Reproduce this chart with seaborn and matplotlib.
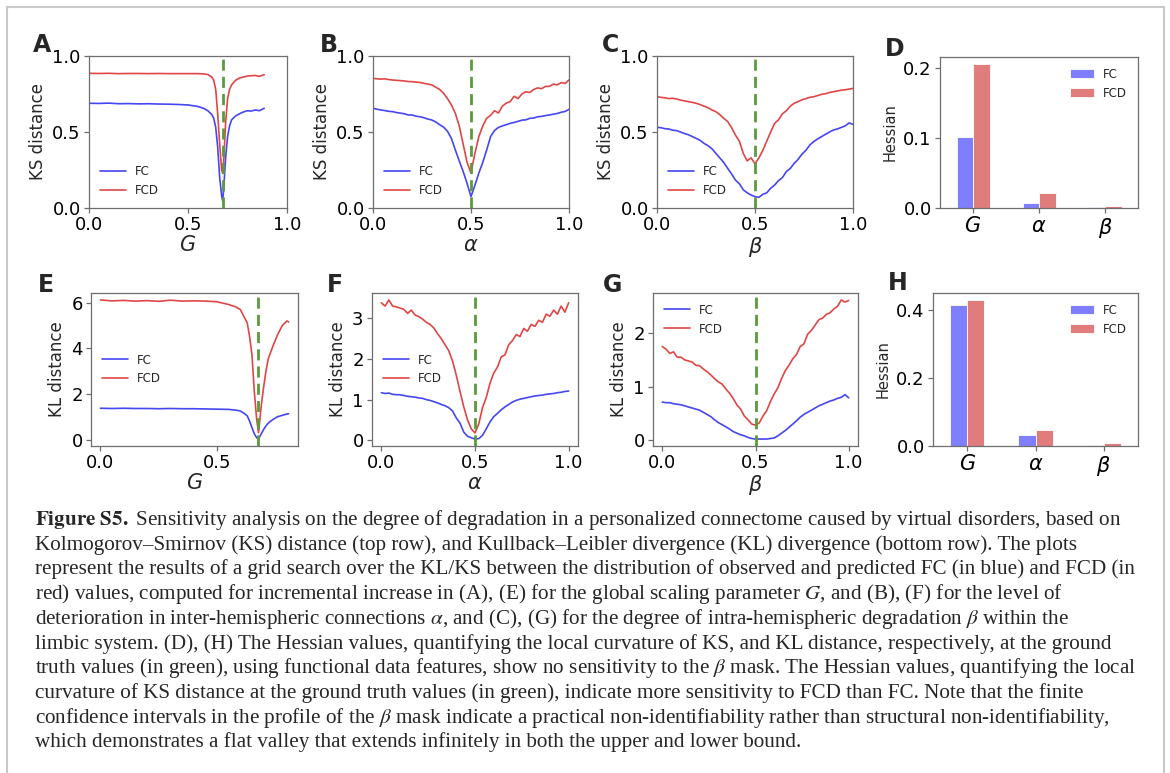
import numpy as np
import pandas as pd
import matplotlib
matplotlib.use("Agg")
import matplotlib.pyplot as plt
from matplotlib.lines import Line2D
import seaborn as sns

# ---------------- data ----------------
G_TRUE = 0.675
A_TRUE = 0.5
B_TRUE = 0.5

# Panel A (KS vs G)
a_x = [0.0, 0.05, 0.10, 0.15, 0.20, 0.25, 0.30, 0.35, 0.40, 0.45, 0.50, 0.55, 0.58, 0.60, 0.62, 0.63, 0.64,
       0.65, 0.66, 0.67, 0.675, 0.68, 0.69, 0.70, 0.71, 0.72, 0.74, 0.76, 0.78, 0.80, 0.82, 0.84, 0.86, 0.885]
a_fc = [0.689, 0.688, 0.690, 0.686, 0.687, 0.685, 0.686, 0.684, 0.683, 0.681, 0.678, 0.668, 0.655, 0.640, 0.615,
        0.590, 0.530, 0.400, 0.200, 0.080, 0.050, 0.120, 0.330, 0.470, 0.540, 0.580, 0.605, 0.620, 0.632, 0.640,
        0.638, 0.645, 0.640, 0.656]
a_fcd = [0.886, 0.885, 0.886, 0.884, 0.885, 0.885, 0.884, 0.885, 0.884, 0.884, 0.884, 0.884, 0.882, 0.878, 0.862,
         0.840, 0.780, 0.620, 0.420, 0.250, 0.230, 0.300, 0.560, 0.720, 0.780, 0.810, 0.840, 0.855, 0.862, 0.868,
         0.870, 0.872, 0.866, 0.877]

# common sweep grid for alpha / beta
sweep = np.linspace(0.0, 1.0, 51)

# Panel B (KS vs alpha)
b_fc = [0.656, 0.650, 0.645, 0.641, 0.636, 0.634, 0.628, 0.624, 0.620, 0.612, 0.612, 0.604, 0.600, 0.594, 0.585,
        0.579, 0.566, 0.548, 0.532, 0.505, 0.458, 0.382, 0.310, 0.240, 0.162, 0.075, 0.150, 0.230, 0.300, 0.382,
        0.470, 0.510, 0.530, 0.540, 0.548, 0.557, 0.563, 0.570, 0.578, 0.580, 0.590, 0.592, 0.600, 0.603, 0.608,
        0.612, 0.617, 0.622, 0.630, 0.635, 0.649]
b_fcd = [0.853, 0.850, 0.848, 0.850, 0.845, 0.842, 0.840, 0.838, 0.836, 0.832, 0.831, 0.828, 0.826, 0.820, 0.815,
         0.810, 0.795, 0.780, 0.755, 0.720, 0.678, 0.623, 0.540, 0.420, 0.300, 0.230, 0.360, 0.470, 0.540, 0.590,
         0.610, 0.640, 0.625, 0.670, 0.690, 0.700, 0.735, 0.720, 0.750, 0.765, 0.760, 0.780, 0.790, 0.785, 0.800,
         0.800, 0.815, 0.810, 0.825, 0.820, 0.842]

# Panel C (KS vs beta)
c_fc = [0.531, 0.528, 0.522, 0.520, 0.512, 0.509, 0.500, 0.490, 0.482, 0.470, 0.458, 0.445, 0.425, 0.410, 0.390,
        0.360, 0.330, 0.300, 0.262, 0.225, 0.184, 0.160, 0.120, 0.100, 0.085, 0.075, 0.070, 0.090, 0.100, 0.130,
        0.151, 0.180, 0.200, 0.240, 0.260, 0.294, 0.320, 0.355, 0.380, 0.415, 0.437, 0.455, 0.470, 0.485, 0.500,
        0.513, 0.520, 0.530, 0.540, 0.560, 0.550]
c_fcd = [0.732, 0.728, 0.725, 0.720, 0.722, 0.717, 0.710, 0.705, 0.700, 0.695, 0.689, 0.680, 0.670, 0.660, 0.645,
         0.634, 0.615, 0.590, 0.570, 0.530, 0.480, 0.440, 0.360, 0.310, 0.330, 0.290, 0.330, 0.380, 0.440, 0.500,
         0.557, 0.580, 0.620, 0.640, 0.670, 0.689, 0.700, 0.712, 0.720, 0.728, 0.732, 0.740, 0.748, 0.752, 0.760,
         0.765, 0.770, 0.775, 0.778, 0.782, 0.787]

# Panel D (Hessian of KS)
params = ["$G$", r"$\alpha$", r"$\beta$"]
d_fc = [0.101, 0.0075, 0.001]
d_fcd = [0.205, 0.021, 0.003]

# Panel E (KL vs G)
e_x = [0.0, 0.05, 0.10, 0.15, 0.20, 0.25, 0.30, 0.35, 0.40, 0.45, 0.50, 0.55, 0.58, 0.60, 0.62, 0.63, 0.64,
       0.65, 0.66, 0.67, 0.678, 0.69, 0.70, 0.71, 0.72, 0.74, 0.76, 0.78, 0.80, 0.807]
e_fc = [1.37, 1.36, 1.37, 1.36, 1.36, 1.35, 1.36, 1.35, 1.35, 1.34, 1.33, 1.32, 1.29, 1.25, 1.12, 1.03, 0.80,
        0.52, 0.25, 0.08, 0.02, 0.25, 0.44, 0.60, 0.72, 0.88, 1.00, 1.06, 1.12, 1.13]
e_fcd = [6.12, 6.08, 6.10, 6.07, 6.09, 6.06, 6.11, 6.07, 6.08, 6.07, 6.04, 5.92, 5.82, 5.70, 5.30, 5.10, 4.50,
         3.70, 2.10, 0.90, 0.30, 1.50, 2.30, 3.00, 3.55, 4.10, 4.60, 5.00, 5.20, 5.15]

# Panel F (KL vs alpha)
f_fc = [1.17, 1.15, 1.16, 1.13, 1.12, 1.12, 1.10, 1.08, 1.07, 1.06, 1.04, 1.03, 1.00, 0.98, 0.95, 0.92, 0.88,
        0.85, 0.80, 0.72, 0.55, 0.42, 0.20, 0.10, 0.06, 0.03, 0.04, 0.12, 0.28, 0.45, 0.58, 0.66, 0.75, 0.82,
        0.88, 0.94, 0.98, 1.01, 1.03, 1.05, 1.07, 1.09, 1.10, 1.11, 1.13, 1.14, 1.15, 1.17, 1.18, 1.20, 1.21]
f_fcd = [3.38, 3.30, 3.45, 3.30, 3.28, 3.25, 3.22, 3.12, 3.20, 3.08, 3.04, 2.98, 2.90, 2.85, 2.76, 2.62, 2.50,
         2.35, 2.20, 1.95, 1.60, 1.20, 0.82, 0.50, 0.28, 0.18, 0.40, 0.80, 1.05, 1.40, 1.65, 1.80, 2.05, 2.10,
         2.35, 2.45, 2.60, 2.55, 2.75, 2.68, 2.85, 2.80, 2.95, 2.90, 3.10, 3.05, 3.20, 3.10, 3.30, 3.15, 3.38]

# Panel G (KL vs beta)
g_fc = [0.71, 0.70, 0.70, 0.68, 0.67, 0.66, 0.64, 0.62, 0.60, 0.58, 0.56, 0.52, 0.48, 0.44, 0.38, 0.33, 0.29,
        0.25, 0.21, 0.16, 0.13, 0.10, 0.08, 0.05, 0.03, 0.02, 0.02, 0.02, 0.02, 0.03, 0.04, 0.08, 0.13, 0.18,
        0.24, 0.30, 0.36, 0.43, 0.48, 0.52, 0.56, 0.60, 0.64, 0.67, 0.70, 0.73, 0.75, 0.78, 0.80, 0.85, 0.79]
g_fcd = [1.75, 1.70, 1.62, 1.65, 1.55, 1.55, 1.50, 1.48, 1.46, 1.40, 1.39, 1.33, 1.28, 1.22, 1.15, 1.09, 1.05,
         0.96, 0.88, 0.78, 0.66, 0.58, 0.45, 0.38, 0.30, 0.28, 0.32, 0.45, 0.55, 0.72, 0.86, 0.98, 1.15, 1.30,
         1.40, 1.52, 1.60, 1.75, 1.80, 1.98, 2.05, 2.15, 2.25, 2.28, 2.35, 2.38, 2.45, 2.50, 2.62, 2.58, 2.61]

# Panel H (Hessian of KL)
h_fc = [0.416, 0.033, 0.003]
h_fcd = [0.429, 0.047, 0.010]

caption_lines = [
    r"$\mathbf{Figure\ S5.}$ Sensitivity analysis on the degree of degradation in a personalized connectome caused by virtual disorders, based on",
    "Kolmogorov–Smirnov (KS) distance (top row), and Kullback–Leibler divergence (KL) divergence (bottom row). The plots",
    "represent the results of a grid search over the KL/KS between the distribution of observed and predicted FC (in blue) and FCD (in",
    r"red) values, computed for incremental increase in (A), (E) for the global scaling parameter $G$, and (B), (F) for the level of",
    r"deterioration in inter-hemispheric connections $\alpha$, and (C), (G) for the degree of intra-hemispheric degradation $\beta$ within the",
    "limbic system. (D), (H) The Hessian values, quantifying the local curvature of KS, and KL distance, respectively, at the ground",
    r"truth values (in green), using functional data features, show no sensitivity to the $\beta$ mask. The Hessian values, quantifying the local",
    "curvature of KS distance at the ground truth values (in green), indicate more sensitivity to FCD than FC. Note that the finite",
    r"confidence intervals in the profile of the $\beta$ mask indicate a practical non-identifiability rather than structural non-identifiability,",
    "which demonstrates a flat valley that extends infinitely in both the upper and lower bound.",
]

# ---------------- style ----------------
sns.set_style("ticks")
plt.rcParams["font.family"] = ["DejaVu Sans"]
plt.rcParams["axes.edgecolor"] = "#6e6e6e"
plt.rcParams["axes.linewidth"] = 0.9
plt.rcParams["xtick.color"] = "#6e6e6e"
plt.rcParams["ytick.color"] = "#6e6e6e"
plt.rcParams["xtick.labelcolor"] = "black"
plt.rcParams["ytick.labelcolor"] = "black"

BLUE = "#4646f2"
RED = "#e04646"
GREEN = "#5b9b3a"
BAR_BLUE = "#7f7ffd"
BAR_RED = "#e07c7c"

W, H = 1170, 773
fig = plt.figure(figsize=(W / 100, H / 100), dpi=100)
fig.patch.set_facecolor("white")


def px_axes(l, r, t, b):
    return fig.add_axes([l / W, 1 - b / H, (r - l) / W, (b - t) / H])


def style(ax, ylabel, ylabsize=12):
    ax.tick_params(axis="both", labelsize=13, length=3.5, width=0.9, pad=2.5)
    ax.set_ylabel(ylabel, fontsize=ylabsize)
    for s in ax.spines.values():
        s.set_visible(True)


def line_panel(ax, x, fc, fcd, truth, xlabel, ylabel, legend_loc):
    sns.lineplot(x=x, y=fc, ax=ax, color=BLUE, linewidth=1.2, label="FC", estimator=None)
    sns.lineplot(x=x, y=fcd, ax=ax, color=RED, linewidth=1.2, label="FCD", estimator=None)
    ax.axvline(truth, color=GREEN, linestyle=(0, (4.0, 2.2)), linewidth=2.0)
    ax.set_xlabel(xlabel, fontsize=15, labelpad=0.5)
    style(ax, ylabel)
    ax.legend(loc=legend_loc, frameon=False, fontsize=8.5, handlelength=2.2)


def bar_panel(ax, fc, fcd, ylabel):
    df = pd.DataFrame({"param": params * 2,
                       "metric": ["FC"] * 3 + ["FCD"] * 3,
                       "value": fc + fcd})
    sns.barplot(data=df, x="param", y="value", hue="metric", order=params,
                palette={"FC": BAR_BLUE, "FCD": BAR_RED}, width=0.5, saturation=1,
                edgecolor="white", linewidth=0.6, ax=ax)
    ax.set_xlabel("")
    style(ax, ylabel, ylabsize=10.5)
    ax.tick_params(axis="x", labelsize=15)
    ax.legend(loc="upper right", frameon=False, fontsize=8.5)


# Row 1
axA = px_axes(89, 287, 56, 208)
line_panel(axA, a_x, a_fc, a_fcd, G_TRUE, "$G$", "KS distance", "lower left")
axA.set_xlim(0, 1); axA.set_ylim(0, 1)
axA.set_xticks([0, 0.5, 1.0]); axA.set_yticks([0, 0.5, 1.0])

axB = px_axes(373, 569, 56, 208)
line_panel(axB, sweep, b_fc, b_fcd, A_TRUE, r"$\alpha$", "KS distance", "lower left")
axB.set_xlim(0, 1); axB.set_ylim(0, 1)
axB.set_xticks([0, 0.5, 1.0]); axB.set_yticks([0, 0.5, 1.0])

axC = px_axes(657, 853, 56, 208)
line_panel(axC, sweep, c_fc, c_fcd, B_TRUE, r"$\beta$", "KS distance", "lower left")
axC.set_xlim(0, 1); axC.set_ylim(0, 1)
axC.set_xticks([0, 0.5, 1.0]); axC.set_yticks([0, 0.5, 1.0])

axD = px_axes(940, 1138, 57, 208)
bar_panel(axD, d_fc, d_fcd, "Hessian")
axD.set_yticks([0, 0.1, 0.2])

# Row 2
axE = px_axes(91, 298, 293, 446)
line_panel(axE, e_x, e_fc, e_fcd, G_TRUE, "$G$", "KL distance", "center left")
axE.set_xticks([0, 0.5]); axE.set_yticks([0, 2, 4, 6])

axF = px_axes(372, 578, 293, 446)
line_panel(axF, sweep, f_fc, f_fcd, A_TRUE, r"$\alpha$", "KL distance", "center left")
axF.set_xticks([0, 0.5, 1.0]); axF.set_yticks([0, 1, 2, 3])

axG = px_axes(653, 858, 293, 446)
line_panel(axG, sweep, g_fc, g_fcd, B_TRUE, r"$\beta$", "KL distance", "upper left")
axG.set_xticks([0, 0.5, 1.0]); axG.set_yticks([0, 1, 2])

axH = px_axes(933, 1138, 293, 446)
bar_panel(axH, h_fc, h_fcd, "Hessian")
axH.set_yticks([0, 0.2, 0.4])

for ax in [axA, axB, axC, axE, axF, axG]:
    ax.xaxis.set_major_formatter(matplotlib.ticker.FormatStrFormatter("%.1f"))
for ax in [axA, axB, axC, axD, axH]:
    ax.yaxis.set_major_formatter(matplotlib.ticker.FormatStrFormatter("%.1f"))

# Panel letters
letters = [("A", 33, 52), ("B", 320, 52), ("C", 602, 52), ("D", 885, 56),
           ("E", 38, 292), ("F", 327, 292), ("G", 603, 292), ("H", 888, 290)]
for lab, x, y in letters:
    fig.text(x / W, 1 - y / H, lab, fontsize=17, fontweight="bold", va="baseline", ha="left")

# Caption
cap_left = 35
cap_base0 = 525
cap_step = 24.7
target_width = 1137 - cap_left
renderer = fig.canvas.get_renderer()
probe = fig.text(0, 0, caption_lines[6], fontsize=14, family="Liberation Serif", math_fontfamily="stix")
wpx = probe.get_window_extent(renderer).width
probe.remove()
cap_size = 14 * target_width / wpx
for i, ln in enumerate(caption_lines):
    fig.text(cap_left / W, 1 - (cap_base0 + i * cap_step) / H, ln, fontsize=cap_size,
             family="Liberation Serif", math_fontfamily="stix", va="baseline", ha="left")

# Frame around the figure
bc = "#c9c9c9"
fig.add_artist(Line2D([7 / W, 7 / W], [0, 1 - 7 / H], color=bc, linewidth=1.5, transform=fig.transFigure))
fig.add_artist(Line2D([7 / W, 1164 / W], [1 - 7 / H, 1 - 7 / H], color=bc, linewidth=1.5, transform=fig.transFigure))
fig.add_artist(Line2D([1164 / W, 1164 / W], [0, 1 - 7 / H], color=bc, linewidth=1.5, transform=fig.transFigure))

fig.savefig("out.png", dpi=100, facecolor="white")
